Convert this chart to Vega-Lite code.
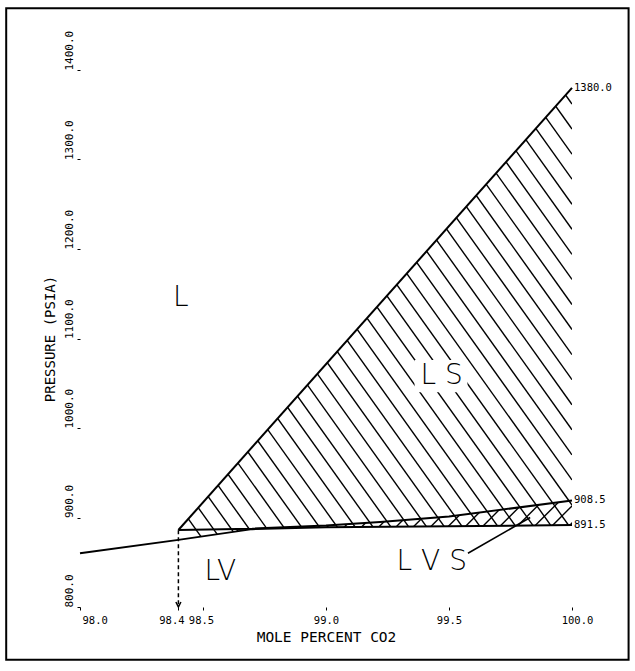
{
  "$schema": "https://vega.github.io/schema/vega-lite/v6.json",
  "width": 492,
  "height": 537,
  "autosize": {"type": "none"},
  "padding": {"left": 80, "top": 70, "right": 63, "bottom": 64},
  "background": "white",
  "config": {
    "view": {"stroke": null},
    "axis": {"labelFont": "DejaVu Sans Mono", "titleFont": "DejaVu Sans Mono", "labelColor": "black", "titleColor": "black", "tickColor": "black", "domainColor": "black", "grid": false, "titleFontWeight": "normal"}
  },
  "datasets": {
    "back": [
      {"x": 98.4, "y": 914, "x2": 100, "y2": 298},
      {"x": 98.4, "y": 942, "x2": 100, "y2": 326},
      {"x": 98.4, "y": 970, "x2": 100, "y2": 354},
      {"x": 98.4, "y": 998, "x2": 100, "y2": 382},
      {"x": 98.4, "y": 1026, "x2": 100, "y2": 410},
      {"x": 98.4, "y": 1054, "x2": 100, "y2": 438},
      {"x": 98.4, "y": 1082, "x2": 100, "y2": 466},
      {"x": 98.4, "y": 1110, "x2": 100, "y2": 494},
      {"x": 98.4, "y": 1138, "x2": 100, "y2": 522},
      {"x": 98.4, "y": 1166, "x2": 100, "y2": 550},
      {"x": 98.4, "y": 1194, "x2": 100, "y2": 578},
      {"x": 98.4, "y": 1222, "x2": 100, "y2": 606},
      {"x": 98.4, "y": 1250, "x2": 100, "y2": 634},
      {"x": 98.4, "y": 1278, "x2": 100, "y2": 662},
      {"x": 98.4, "y": 1306, "x2": 100, "y2": 690},
      {"x": 98.4, "y": 1334, "x2": 100, "y2": 718},
      {"x": 98.4, "y": 1362, "x2": 100, "y2": 746},
      {"x": 98.4, "y": 1390, "x2": 100, "y2": 774},
      {"x": 98.4, "y": 1418, "x2": 100, "y2": 802},
      {"x": 98.4, "y": 1446, "x2": 100, "y2": 830},
      {"x": 98.4, "y": 1474, "x2": 100, "y2": 858},
      {"x": 98.4, "y": 1502, "x2": 100, "y2": 886},
      {"x": 98.4, "y": 1530, "x2": 100, "y2": 914},
      {"x": 98.4, "y": 1558, "x2": 100, "y2": 942},
      {"x": 98.4, "y": 1586, "x2": 100, "y2": 970},
      {"x": 98.4, "y": 1614, "x2": 100, "y2": 998},
      {"x": 98.4, "y": 1642, "x2": 100, "y2": 1026},
      {"x": 98.4, "y": 1670, "x2": 100, "y2": 1054},
      {"x": 98.4, "y": 1698, "x2": 100, "y2": 1082},
      {"x": 98.4, "y": 1726, "x2": 100, "y2": 1110},
      {"x": 98.4, "y": 1754, "x2": 100, "y2": 1138},
      {"x": 98.4, "y": 1782, "x2": 100, "y2": 1166},
      {"x": 98.4, "y": 1810, "x2": 100, "y2": 1194},
      {"x": 98.4, "y": 1838, "x2": 100, "y2": 1222},
      {"x": 98.4, "y": 1866, "x2": 100, "y2": 1250},
      {"x": 98.4, "y": 1894, "x2": 100, "y2": 1278},
      {"x": 98.4, "y": 1922, "x2": 100, "y2": 1306},
      {"x": 98.4, "y": 1950, "x2": 100, "y2": 1334},
      {"x": 98.4, "y": 1978, "x2": 100, "y2": 1362}
    ],
    "slash": [
      {"x": 98.62, "y": 880, "x2": 98.802, "y2": 930},
      {"x": 98.69, "y": 880, "x2": 98.872, "y2": 930},
      {"x": 98.76, "y": 880, "x2": 98.942, "y2": 930},
      {"x": 98.83, "y": 880, "x2": 99.012, "y2": 930},
      {"x": 98.90, "y": 880, "x2": 99.082, "y2": 930},
      {"x": 98.97, "y": 880, "x2": 99.152, "y2": 930},
      {"x": 99.04, "y": 880, "x2": 99.222, "y2": 930},
      {"x": 99.11, "y": 880, "x2": 99.292, "y2": 930},
      {"x": 99.18, "y": 880, "x2": 99.362, "y2": 930},
      {"x": 99.25, "y": 880, "x2": 99.432, "y2": 930},
      {"x": 99.32, "y": 880, "x2": 99.502, "y2": 930},
      {"x": 99.39, "y": 880, "x2": 99.572, "y2": 930},
      {"x": 99.46, "y": 880, "x2": 99.642, "y2": 930},
      {"x": 99.53, "y": 880, "x2": 99.712, "y2": 930},
      {"x": 99.60, "y": 880, "x2": 99.782, "y2": 930},
      {"x": 99.67, "y": 880, "x2": 99.852, "y2": 930},
      {"x": 99.74, "y": 880, "x2": 99.922, "y2": 930},
      {"x": 99.81, "y": 880, "x2": 99.992, "y2": 930},
      {"x": 99.88, "y": 880, "x2": 100.062, "y2": 930},
      {"x": 99.95, "y": 880, "x2": 100.132, "y2": 930}
    ],
    "upper": [
      {"x": 98.4, "y": 886, "top": 1400},
      {"x": 98.7, "y": 887.5, "top": 1400},
      {"x": 99.0, "y": 891, "top": 1400},
      {"x": 99.22, "y": 895, "top": 1400},
      {"x": 99.5, "y": 901, "top": 1400},
      {"x": 100.0, "y": 919, "top": 1400}
    ],
    "diag": [
      {"x": 98.4, "y": 886},
      {"x": 100.0, "y": 1380}
    ],
    "diagmask": [
      {"x": 98.3, "y": 886, "top": 1400},
      {"x": 98.4, "y": 886, "top": 1400},
      {"x": 100.0, "y": 1380, "top": 1400}
    ],
    "lower": [
      {"x": 98.0, "y": 860, "base": 800},
      {"x": 98.4, "y": 875, "base": 800},
      {"x": 98.7, "y": 887, "base": 800},
      {"x": 99.0, "y": 889, "base": 800},
      {"x": 99.5, "y": 890.3, "base": 800},
      {"x": 100.0, "y": 891.5, "base": 800}
    ],
    "lsbox": [{"x": 99.36, "x2": 99.575, "y": 1040, "y2": 1076}],
    "dash": [{"x": 98.4, "y": 803}, {"x": 98.4, "y": 886}],
    "arrow": [{"x": 98.4, "y": 800}],
    "leader": [{"x": 99.577, "y": 860}, {"x": 99.83, "y": 900}],
    "regions": [
      {"x": 98.41, "y": 1145, "t": "L"},
      {"x": 99.47, "y": 1058, "t": "L S"},
      {"x": 98.57, "y": 839, "t": "LV"},
      {"x": 99.43, "y": 850, "t": "L V S"}
    ],
    "values": [
      {"x": 100, "y": 1380, "t": "1380.0"},
      {"x": 100, "y": 919, "t": "908.5"},
      {"x": 100, "y": 891.5, "t": "891.5"}
    ],
    "page": [{"x": 97.70, "x2": 100.23, "y": 741, "y2": 1469}]
  },
  "layer": [
    {
      "data": {"name": "slash"},
      "mark": {"type": "rule", "clip": true, "strokeWidth": 1.4, "color": "black"},
      "encoding": {
        "x": {"field": "x", "type": "quantitative", "scale": {"domain": [98, 100], "nice": false, "zero": false},
          "axis": {"values": [98.0, 98.4, 98.5, 99.0, 99.5, 100.0], "format": ".1f", "title": "MOLE PERCENT CO2", "tickSize": 3, "labelFontSize": 10.5, "labelPadding": 5, "titleFontSize": 14.5, "titlePadding": 5, "labelOverlap": false, "labelFlush": false, "domain": false,
            "labelAlign": {"condition": {"test": "datum.value == 98", "value": "left"}, "value": "center"},
            "labelOffset": {"condition": [{"test": "datum.value == 98.4", "value": -7}, {"test": "datum.value == 98.5", "value": -2}, {"test": "datum.value == 100", "value": 5}, {"test": "datum.value == 98", "value": 2}], "value": 0}}},
        "y": {"field": "y", "type": "quantitative", "scale": {"domain": [800, 1400], "nice": false, "zero": false},
          "axis": {"values": [800, 900, 1000, 1100, 1200, 1300, 1400], "format": ".1f", "title": "PRESSURE (PSIA)", "tickSize": 3, "labelFontSize": 11, "labelAngle": 270, "labelAlign": "left", "labelBaseline": "alphabetic", "labelPadding": 5, "titleFontSize": 14, "titlePadding": 6, "domain": false}},
        "x2": {"field": "x2"},
        "y2": {"field": "y2"}
      }
    },
    {
      "data": {"name": "upper"},
      "mark": {"type": "area", "color": "white", "opacity": 1},
      "encoding": {"x": {"field": "x", "type": "quantitative"}, "y": {"field": "y", "type": "quantitative"}, "y2": {"field": "top"}}
    },
    {
      "data": {"name": "back"},
      "mark": {"type": "rule", "clip": true, "strokeWidth": 1.4, "color": "black"},
      "encoding": {"x": {"field": "x", "type": "quantitative"}, "y": {"field": "y", "type": "quantitative"}, "x2": {"field": "x2"}, "y2": {"field": "y2"}}
    },
    {
      "data": {"name": "lsbox"},
      "mark": {"type": "rect", "color": "white"},
      "encoding": {"x": {"field": "x", "type": "quantitative"}, "x2": {"field": "x2"}, "y": {"field": "y", "type": "quantitative"}, "y2": {"field": "y2"}}
    },
    {
      "data": {"name": "diagmask"},
      "mark": {"type": "area", "color": "white", "opacity": 1},
      "encoding": {"x": {"field": "x", "type": "quantitative"}, "y": {"field": "y", "type": "quantitative"}, "y2": {"field": "top"}}
    },
    {
      "data": {"name": "lower"},
      "mark": {"type": "area", "color": "white", "opacity": 1},
      "encoding": {"x": {"field": "x", "type": "quantitative"}, "y": {"field": "y", "type": "quantitative"}, "y2": {"field": "base"}}
    },
    {
      "data": {"name": "lower"},
      "mark": {"type": "line", "color": "black", "strokeWidth": 2},
      "encoding": {"x": {"field": "x", "type": "quantitative"}, "y": {"field": "y", "type": "quantitative"}}
    },
    {
      "data": {"name": "upper"},
      "mark": {"type": "line", "color": "black", "strokeWidth": 2},
      "encoding": {"x": {"field": "x", "type": "quantitative"}, "y": {"field": "y", "type": "quantitative"}}
    },
    {
      "data": {"name": "diag"},
      "mark": {"type": "line", "color": "black", "strokeWidth": 2},
      "encoding": {"x": {"field": "x", "type": "quantitative"}, "y": {"field": "y", "type": "quantitative"}}
    },
    {
      "data": {"name": "dash"},
      "mark": {"type": "line", "color": "black", "strokeWidth": 1.5, "strokeDash": [4, 3]},
      "encoding": {"x": {"field": "x", "type": "quantitative"}, "y": {"field": "y", "type": "quantitative"}}
    },
    {
      "data": {"name": "arrow"},
      "mark": {"type": "point", "shape": "M-1,-2L0,0L1,-2", "size": 25, "stroke": "black", "strokeWidth": 1.5, "filled": false, "opacity": 1},
      "encoding": {"x": {"field": "x", "type": "quantitative"}, "y": {"field": "y", "type": "quantitative"}}
    },
    {
      "data": {"name": "leader"},
      "mark": {"type": "line", "color": "black", "strokeWidth": 1.6},
      "encoding": {"x": {"field": "x", "type": "quantitative"}, "y": {"field": "y", "type": "quantitative"}}
    },
    {
      "data": {"name": "regions"},
      "mark": {"type": "text", "font": "DejaVu Sans", "fontWeight": 200, "fontSize": 28, "color": "black", "align": "center", "baseline": "middle"},
      "encoding": {"x": {"field": "x", "type": "quantitative"}, "y": {"field": "y", "type": "quantitative"}, "text": {"field": "t"}}
    },
    {
      "data": {"name": "values"},
      "mark": {"type": "text", "font": "DejaVu Sans Mono", "fontSize": 10.5, "color": "black", "align": "left", "baseline": "middle", "dx": 2},
      "encoding": {"x": {"field": "x", "type": "quantitative"}, "y": {"field": "y", "type": "quantitative"}, "text": {"field": "t"}}
    },
    {
      "mark": {"type": "rule", "color": "black", "strokeWidth": 2},
      "encoding": {"y": {"datum": 1400, "type": "quantitative"}}
    },
    {
      "mark": {"type": "rule", "color": "black", "strokeWidth": 2},
      "encoding": {"y": {"datum": 800, "type": "quantitative"}}
    },
    {
      "mark": {"type": "rule", "color": "black", "strokeWidth": 2},
      "encoding": {"x": {"datum": 98, "type": "quantitative"}}
    },
    {
      "mark": {"type": "rule", "color": "black", "strokeWidth": 2},
      "encoding": {"x": {"datum": 100, "type": "quantitative"}}
    },
    {
      "data": {"name": "page"},
      "mark": {"type": "rect", "fill": null, "stroke": "black", "strokeWidth": 2, "fillOpacity": 0},
      "encoding": {"x": {"field": "x", "type": "quantitative"}, "x2": {"field": "x2"}, "y": {"field": "y", "type": "quantitative"}, "y2": {"field": "y2"}}
    }
  ]
}
